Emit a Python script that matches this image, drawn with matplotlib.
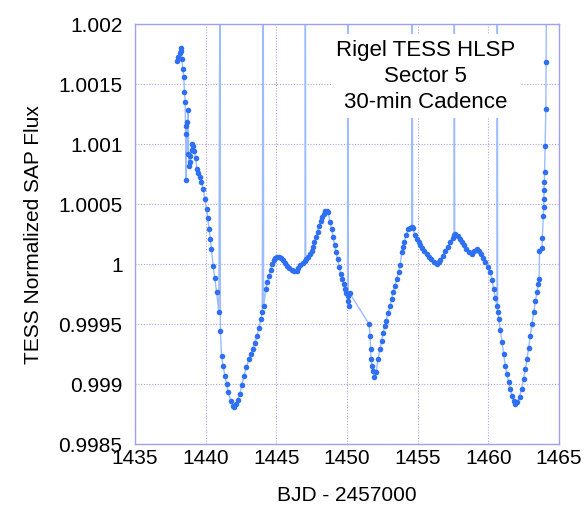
import matplotlib
matplotlib.use("Agg")
import matplotlib.pyplot as plt
import numpy as np

# BJD - 2457000 and normalized SAP flux.
# Points above 1.002 are the momentum-dump outliers that only show up as
# near-vertical spikes running out of the top of the frame.
TIME = [
    1437.98, 1438.03, 1438.15, 1438.22, 1438.26, 1438.31, 1438.38, 1438.45,
    1438.50, 1438.55, 1438.58, 1438.60, 1438.63, 1438.68, 1438.72, 1438.76,
    1438.80, 1438.86, 1438.92, 1439.00, 1439.06, 1439.12, 1439.20, 1439.30,
    1439.37, 1439.48, 1439.59, 1439.70, 1439.82, 1439.94, 1440.06, 1440.15,
    1440.24, 1440.33, 1440.41, 1440.53, 1440.65, 1440.77, 1440.93, 1441.02,
    1441.04, 1441.12, 1441.24, 1441.36, 1441.48, 1441.59, 1441.78, 1441.92,
    1442.03, 1442.14, 1442.28, 1442.42, 1442.56, 1442.71, 1442.88, 1443.06,
    1443.20, 1443.34, 1443.48, 1443.63, 1443.77, 1443.91, 1444.00, 1444.07,
    1444.10, 1444.26, 1444.37, 1444.48, 1444.59, 1444.69, 1444.80, 1444.90,
    1445.04, 1445.18, 1445.32, 1445.47, 1445.61, 1445.75, 1445.93, 1446.11,
    1446.28, 1446.44, 1446.56, 1446.67, 1446.86, 1447.03, 1447.05, 1447.08,
    1447.22, 1447.38, 1447.49, 1447.59, 1447.70, 1447.81, 1447.92, 1448.02,
    1448.13, 1448.23, 1448.34, 1448.45, 1448.55, 1448.66, 1448.80, 1448.91,
    1449.02, 1449.12, 1449.23, 1449.33, 1449.44, 1449.55, 1449.66, 1449.77,
    1449.87, 1449.96, 1450.04, 1450.07, 1450.09, 1450.11, 1450.18, 1451.56,
    1451.63, 1451.67, 1451.70, 1451.77, 1451.84, 1451.92, 1452.06, 1452.20,
    1452.34, 1452.45, 1452.55, 1452.66, 1452.76, 1452.90, 1453.05, 1453.15,
    1453.26, 1453.40, 1453.53, 1453.65, 1453.76, 1453.88, 1453.96, 1454.04,
    1454.20, 1454.35, 1454.47, 1454.59, 1454.61, 1454.64, 1454.82, 1454.94,
    1455.06, 1455.19, 1455.32, 1455.48, 1455.65, 1455.80, 1455.96, 1456.16,
    1456.36, 1456.48, 1456.59, 1456.77, 1456.95, 1457.12, 1457.30, 1457.48,
    1457.57, 1457.59, 1457.62, 1457.66, 1457.87, 1458.00, 1458.13, 1458.28,
    1458.43, 1458.63, 1458.84, 1459.02, 1459.20, 1459.35, 1459.50, 1459.64,
    1459.78, 1459.96, 1460.14, 1460.26, 1460.37, 1460.49, 1460.61, 1460.63,
    1460.66, 1460.73, 1460.85, 1460.97, 1461.08, 1461.20, 1461.32, 1461.44,
    1461.56, 1461.68, 1461.80, 1461.91, 1462.06, 1462.21, 1462.35, 1462.50,
    1462.62, 1462.74, 1462.85, 1462.97, 1463.09, 1463.21, 1463.33, 1463.45,
    1463.54, 1463.60, 1463.62, 1463.80, 1463.82, 1463.89, 1463.91, 1463.93,
    1463.94, 1463.96, 1463.98, 1464.02, 1464.07, 1464.09, 1464.12,
]
FLUX = [
    1.001694, 1.001725, 1.001760, 1.001800, 1.001775, 1.001708, 1.001625, 1.001558,
    1.001433, 1.001350, 1.001080, 1.000700, 1.001150, 1.001180, 1.000920, 1.001280,
    1.000820, 1.000900, 1.000850, 1.000950, 1.001000, 1.000980, 1.000940, 1.000880,
    1.000792, 1.000760, 1.000725, 1.000680, 1.000625, 1.000540, 1.000458, 1.000380,
    1.000292, 1.000210, 1.000125, 0.999983, 0.999880, 0.999767, 0.999600, 1.003000,
    0.999440, 0.999233, 0.999150, 0.999067, 0.999000, 0.998933, 0.998858, 0.998817,
    0.998810, 0.998833, 0.998870, 0.998917, 0.998990, 0.999067, 0.999140, 0.999208,
    0.999250, 0.999292, 0.999340, 0.999400, 0.999470, 0.999542, 0.999600, 1.003000,
    0.999650, 0.999792, 0.999850, 0.999900, 0.999950, 1.000000, 1.000030, 1.000050,
    1.000060, 1.000058, 1.000050, 1.000033, 1.000010, 0.999983, 0.999965, 0.999950,
    0.999945, 0.999942, 0.999965, 0.999992, 1.000010, 1.000025, 1.003000, 1.000040,
    1.000060, 1.000083, 1.000110, 1.000142, 1.000180, 1.000225, 1.000270, 1.000317,
    1.000355, 1.000392, 1.000420, 1.000442, 1.000445, 1.000433, 1.000350, 1.000290,
    1.000225, 1.000160, 1.000100, 1.000040, 0.999975, 0.999920, 0.999875, 0.999830,
    0.999792, 0.999760, 0.999733, 1.003000, 0.999690, 0.999650, 0.999758, 0.999500,
    0.999400, 0.999292, 0.999208, 0.999150, 0.999108, 0.999058, 0.999100, 0.999208,
    0.999292, 0.999360, 0.999425, 0.999480, 0.999525, 0.999590, 0.999650, 0.999710,
    0.999767, 0.999820, 0.999875, 0.999935, 0.999992, 1.000100, 1.000140, 1.000183,
    1.000240, 1.000292, 1.000300, 1.000308, 1.003000, 1.000300, 1.000242, 1.000210,
    1.000183, 1.000160, 1.000133, 1.000110, 1.000083, 1.000060, 1.000042, 1.000020,
    1.000000, 1.000015, 1.000033, 1.000070, 1.000108, 1.000145, 1.000183, 1.000220,
    1.000240, 1.003000, 1.000245, 1.000250, 1.000233, 1.000210, 1.000183, 1.000155,
    1.000125, 1.000100, 1.000083, 1.000105, 1.000125, 1.000105, 1.000083, 1.000050,
    1.000017, 0.999975, 0.999933, 0.999865, 0.999792, 0.999720, 0.999650, 1.003000,
    0.999600, 0.999542, 0.999450, 0.999350, 0.999250, 0.999150, 0.999080, 0.999017,
    0.998960, 0.998900, 0.998860, 0.998833, 0.998850, 0.998892, 0.998960, 0.999042,
    0.999125, 0.999208, 0.999300, 0.999400, 0.999500, 0.999600, 0.999690, 0.999767,
    0.999830, 0.999875, 1.000108, 1.000133, 1.000217, 1.000400, 1.000475, 1.000542,
    1.000617, 1.000683, 1.000767, 1.000983, 1.001292, 1.001683, 1.002500,
]

X_TICKS = [1435, 1440, 1445, 1450, 1455, 1460, 1465]
Y_TICKS = [0.9985, 0.999, 0.9995, 1.0, 1.0005, 1.001, 1.0015, 1.002]
Y_TICK_LABELS = ["0.9985", "0.999", "0.9995", "1", "1.0005", "1.001", "1.0015", "1.002"]

plt.rcParams["font.family"] = ["Liberation Sans", "DejaVu Sans"]

fig = plt.figure(figsize=(5.87, 5.10), dpi=100)
ax = fig.add_axes([0.230, 0.1275, 0.7223, 0.8235])

t = np.array(TIME)
f = np.array(FLUX)
ax.plot(t, f, color="#9cbcff", linewidth=1.0, zorder=2)
on_plot = f < 1.0021
ax.plot(t[on_plot], f[on_plot], linestyle="none", marker="o", markersize=4.0,
        color="#2f6ff2", markeredgewidth=0, zorder=3)

ax.set_xlim(1435, 1465)
ax.set_ylim(0.9985, 1.002)
ax.set_xticks(X_TICKS)
ax.set_xticklabels([str(v) for v in X_TICKS])
ax.set_yticks(Y_TICKS)
ax.set_yticklabels(Y_TICK_LABELS)
ax.tick_params(axis="both", length=0, labelsize=15, colors="black")
ax.tick_params(axis="y", pad=9)
ax.tick_params(axis="x", pad=3)

ax.grid(True, color="#a6a6e6", linestyle=(0, (1, 1.5)), linewidth=0.8, zorder=0)
ax.set_axisbelow(True)
for sp in ax.spines.values():
    sp.set_color("#a0a0ee")
    sp.set_linewidth(1.0)

ax.set_xlabel("BJD - 2457000", fontsize=15, labelpad=13)
ax.set_ylabel("TESS Normalized SAP Flux", fontsize=15, labelpad=11)

ax.text(0.686, 0.877, "Rigel TESS HLSP\nSector 5\n30-min Cadence",
        transform=ax.transAxes, ha="center", va="center", fontsize=16,
        linespacing=1.3, zorder=5,
        bbox=dict(boxstyle="square,pad=0.25", facecolor="white", edgecolor="none"))

fig.savefig("out.png", dpi=100)
